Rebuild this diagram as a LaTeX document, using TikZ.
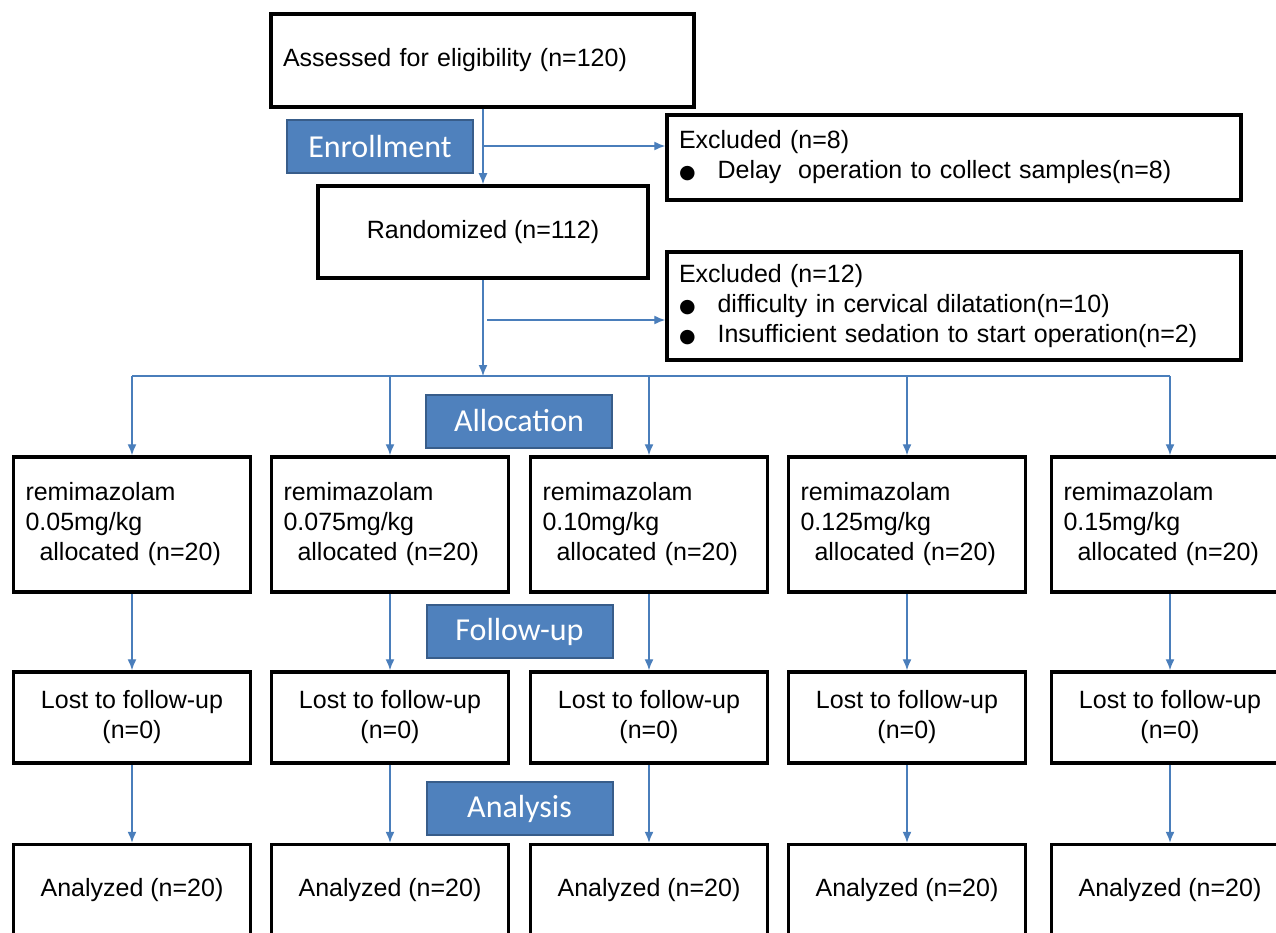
\documentclass[tikz,border=0pt]{standalone}
\usepackage{fontspec}
\setmainfont{Liberation Sans}
\newfontfamily\labelfont{Carlito}
\newfontfamily\symfont{DejaVu Sans}
\usetikzlibrary{arrows.meta}

\newcommand{\bulletitem}{{\symfont\fontsize{19}{19}\selectfont ●}\hspace{22pt}}

\begin{document}
\begin{tikzpicture}[x=1pt,y=-1pt,
    box/.style={draw=black, line width=3.5pt, fill=white, inner xsep=12pt,
                font=\fontsize{25}{30}\selectfont},
    stage/.style={draw=stageedge, line width=2pt, fill=stagefill, text=white,
                  minimum width=186pt, minimum height=53pt, inner sep=0pt,
                  font=\labelfont\fontsize{32}{32}\selectfont},
    flow/.style={draw=flowline, line width=1.4pt, -{Latex[length=11pt,width=9pt]}}]
    % Define colors for stage labels and connectors
    \definecolor{stagefill}{RGB}{79,129,189}
    \definecolor{stageedge}{RGB}{56,93,138}
    \definecolor{flowline}{RGB}{74,126,187}

    \useasboundingbox (0,0) rectangle (1276,933);

    % Enrollment part
    \node[box, text width=399pt, align=left, minimum height=93pt] (assess) at (482.5,60.5)
        {Assessed for eligibility (n=120)};
    \node[box, minimum width=330pt, minimum height=92pt] (rand) at (483,232)
        {Randomized (n=112)};
    \node[box, text width=550pt, align=left, minimum height=85pt] (excl1) at (954,157.5)
        {Excluded (n=8)\\\bulletitem Delay\ \ operation to collect samples(n=8)};
    \node[box, text width=550pt, align=left, minimum height=108pt] (excl2) at (954,306)
        {Excluded (n=12)\\\bulletitem difficulty in cervical dilatation(n=10)\\
         \bulletitem Insufficient sedation to start operation(n=2)};

    % Stage labels
    \node[stage] (enroll) at (380,146.5) {Enrollment};
    \node[stage] (alloc) at (519,421) {Allocation};
    \node[stage] (follow) at (519.5,631.5) {Follow-up};
    \node[stage] (analysis) at (519.5,808.5) {Analysis};

    % Connectors of the enrollment part
    \coordinate (enr) at (483,146);
    \coordinate (rnd) at (487,320);
    \coordinate (bus) at (0,376);
    \draw[flow] (assess.south -| rand.north) -- (rand.north);
    \draw[flow] (enr) -- (enr -| excl1.west);
    \draw[flow] (rand.south) -- (rand.south |- bus);
    \draw[flow] (rnd) -- (rnd -| excl2.west);

    % One column for every dose
    \foreach \i/\x/\dose in {1/132/0.05, 2/390/0.075, 3/649/0.10, 4/907/0.125, 5/1170/0.15} {
        \node[box, text width=213pt, align=left, minimum height=135pt] (group\i) at (\x,524.5)
            {remimazolam\\\dose mg/kg\\\hspace*{14pt}allocated (n=20)};
        \node[box, minimum width=237pt, minimum height=91pt, align=center] (lost\i) at (\x,717.5)
            {Lost to follow-up\\(n=0)};
        \node[box, minimum width=237pt, minimum height=91pt] (done\i) at (\x,890)
            {Analyzed (n=20)};
        \draw[flow] (group\i.north |- bus) -- (group\i.north);
        \draw[flow] (group\i.south) -- (lost\i.north);
        \draw[flow] (lost\i.south) -- (done\i.north);
    }
    \draw[flowline, line width=1.4pt] (group1.north |- bus) -- (group5.north |- bus);
\end{tikzpicture}
\end{document}
